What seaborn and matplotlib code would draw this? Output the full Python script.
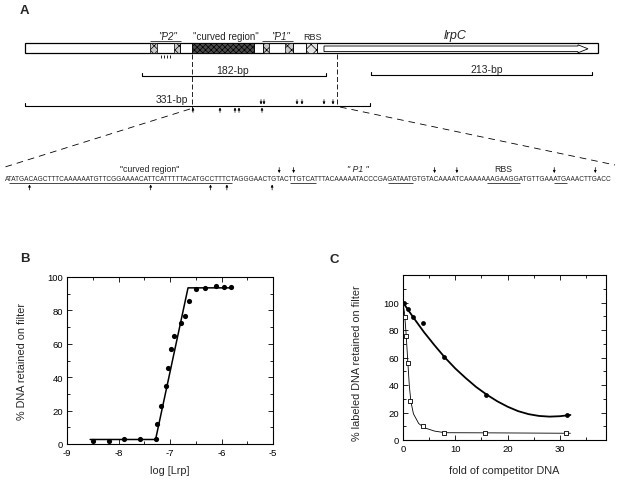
import numpy as np
import pandas as pd
import matplotlib
matplotlib.use("Agg")
import matplotlib.pyplot as plt
import seaborn as sns
from matplotlib.patches import Rectangle, Polygon
from matplotlib.font_manager import FontProperties
from matplotlib.ticker import MultipleLocator

# ---------------- DATA ----------------
# Panel B: filter binding vs log [Lrp]
b_log_lrp = [-8.50, -8.19, -7.89, -7.59, -7.28, -7.26, -7.17, -7.08, -7.03, -6.99,
             -6.92, -6.79, -6.70, -6.63, -6.50, -6.33, -6.11, -5.95, -5.81]
b_pct = [2.0, 2.0, 3.0, 3.0, 3.0, 11.8, 22.7, 34.7, 45.8, 57.0,
         64.7, 72.7, 76.7, 85.6, 93.0, 93.4, 94.6, 94.0, 94.0]
b_fit_x = [-8.55, -7.28, -6.65, -5.78]
b_fit_y = [2.7, 2.7, 93.5, 93.5]

# Panel C: competition
c_fold_filled = [0.15, 0.95, 2.0, 3.9, 7.8, 15.8, 31.3]
c_pct_filled = [100.0, 95.1, 89.6, 85.0, 60.7, 32.8, 18.4]
c_fold_open = [0.3, 0.64, 0.95, 1.4, 3.9, 7.9, 15.6, 31.2]
c_pct_open = [89.6, 75.5, 55.8, 28.4, 10.2, 5.3, 5.3, 4.9]
c_curve_filled_x = [0, 2, 4, 6, 8, 10, 12, 14, 16, 18, 20, 22, 24, 26, 28, 30, 32]
c_curve_filled_y = [100, 89, 78.5, 69, 60, 52, 45, 38.5, 33, 28.2, 24.2, 21, 18.8, 17.5, 17, 17.3, 18.2]
c_curve_open_x = [0, 0.3, 0.6, 0.9, 1.2, 1.5, 2, 3, 4, 6, 8, 16, 32]
c_curve_open_y = [100, 92, 77, 58, 40, 28, 19, 12, 9, 6.5, 5.3, 5.2, 4.9]

# Panel A: sequence and annotations
sequence = ("ATATGACAGCTTTCAAAAAATGTTCGGAAAACATTCATTTTTACATGCCTTTCTAGGGAACTGTAC"
            "TTGTCATTTACAAAAATACCCGAGATAATGTGTACAAAATCAAAAAAAGAAGGATGTTGAAATGAAACTTGACC")
seq_underlines = [(1, 53), (66, 72), (89, 95), (112, 119), (127, 130)]
seq_up_arrows = [5.5, 33.0, 47.5, 51.5, 61.5]
seq_down_arrows = [63.0, 66.5, 99.5, 104.5, 126.5, 136.0]
line331_up_arrows = [193, 220, 235, 239, 262]
line331_down_arrows = [261, 264, 297, 302, 324, 333]

# ---------------- STYLE ----------------
sns.set_style("ticks")
plt.rcParams['font.family'] = ['Liberation Sans', 'DejaVu Sans']
plt.rcParams['axes.unicode_minus'] = False

W, H = 620, 481
fig = plt.figure(figsize=(6.2, 4.81), dpi=100)
axA = fig.add_axes([0, 0, 1, 1])
axA.set_xlim(0, W)
axA.set_ylim(H, 0)
axA.axis('off')

K = 'black'

def hline(x0, x1, y, lw=0.8, **kw):
    axA.plot([x0, x1], [y, y], color=K, lw=lw, solid_capstyle='butt', **kw)

def vline(x, y0, y1, lw=0.8, **kw):
    axA.plot([x, x], [y0, y1], color=K, lw=lw, solid_capstyle='butt', **kw)

def arrow(x, ytail, yhead, lw=0.5, ms=3.5):
    axA.annotate('', xy=(x, yhead), xytext=(x, ytail),
                 arrowprops=dict(arrowstyle='-|>', lw=lw, color=K, mutation_scale=ms,
                                 shrinkA=0, shrinkB=0))

# panel letters
axA.text(20, 11, 'A', fontsize=9.5, fontweight='bold', va='center', ha='left')
axA.text(20, 259, 'B', fontsize=9.5, fontweight='bold', va='center', ha='left')
axA.text(330, 260, 'C', fontsize=9.5, fontweight='bold', va='center', ha='left')

# gene box
y0, y1 = 44, 54
axA.add_patch(Rectangle((25, y0), 598 - 25, y1 - y0, fc='white', ec=K, lw=0.9, zorder=2))
plt.rcParams['hatch.linewidth'] = 0.5
def block(x0, x1, fc, hatch):
    axA.add_patch(Rectangle((x0, y0), x1 - x0, y1 - y0, fc=fc, ec=K, lw=0.5,
                            hatch=hatch, zorder=3))
block(150, 157, '#c8c8c8', 'xxxx')
block(174, 180, '#c8c8c8', 'xxxx')
block(192, 254, '#4a4a4a', 'xxxxxx')
block(263, 269, '#c8c8c8', 'xxxx')
block(285, 293, '#c8c8c8', 'xxxx')
block(306, 317, '#e4e4e4', 'xxx')
for xs in [180, 192, 254, 263, 293, 306, 317]:
    vline(xs, y0, y1, lw=0.5, zorder=4)
# open arrow of lrpC
axA.add_patch(Polygon([(324, 47), (578, 47), (578, 45.8), (588, 49.8), (578, 53.8),
                       (578, 52.6), (324, 52.6)], closed=True, fc='white', ec=K,
                      lw=0.6, zorder=4))

# labels above the box
axA.text(168, 37, '"P2"', fontsize=7, style='italic', ha='center', va='center')
hline(150, 181, 41.5, lw=0.5)
axA.text(226, 37, '"curved region"', fontsize=7, ha='center', va='center')
axA.text(281, 37, '"P1"', fontsize=7, style='italic', ha='center', va='center')
hline(262, 293, 41.5, lw=0.5)
axA.text(312, 37, 'RBS', fontsize=6.5, ha='center', va='center')
axA.text(455, 36, 'lrpC', fontsize=9, style='italic', ha='center', va='center')
for xs in [161, 164, 167, 170]:
    vline(xs, 56, 58.5, lw=0.6)

# dashed verticals
axA.plot([192, 192], [55, 112], color=K, lw=0.6, dashes=(6, 3))
axA.plot([337, 337], [55, 107], color=K, lw=0.6, dashes=(6, 3))

# 182-bp, 213-bp, 331-bp fragments
def fragment(x0, x1, y, label, lx, ly):
    axA.plot([x0, x0, x1, x1], [y - 3, y, y, y - 3], color=K, lw=0.8)
    axA.text(lx, ly, label, fontsize=7.5, ha='center', va='center')
fragment(142, 326, 77, '182-bp', 233, 71)
fragment(371, 592, 76, '213-bp', 487, 70)
fragment(25, 370, 107, '331-bp', 172, 100)

for xs in line331_up_arrows:
    arrow(xs, 113.5, 108.5)
for xs in line331_down_arrows:
    arrow(xs, 100.5, 105.5)

# dashed expansion lines
axA.plot([190, 5], [110, 168], color=K, lw=0.6, dashes=(8, 6))
axA.plot([340, 615], [108, 166], color=K, lw=0.6, dashes=(8, 6))

# sequence
renderer = fig.canvas.get_renderer()
seq_x0, seq_x1, seq_y = 5, 618, 180
fp = FontProperties(family='Liberation Sans', size=10)
w10, _, _ = renderer.get_text_width_height_descent(sequence, fp, ismath=False)
seq_fs = 10 * (seq_x1 - seq_x0) / w10
fp = FontProperties(family='Liberation Sans', size=seq_fs)
axA.text(seq_x0, seq_y, sequence, fontproperties=fp, ha='left', va='center')

def char_x(idx):
    i = int(np.floor(idx))
    frac = idx - i
    wa = renderer.get_text_width_height_descent(sequence[:i], fp, ismath=False)[0] if i > 0 else 0.0
    wb = renderer.get_text_width_height_descent(sequence[:i + 1], fp, ismath=False)[0]
    return seq_x0 + wa + (wb - wa) * (0.5 + frac)

def char_edge(idx):
    if idx == 0:
        return seq_x0
    return seq_x0 + renderer.get_text_width_height_descent(sequence[:idx], fp, ismath=False)[0]

for a, b in seq_underlines:
    hline(char_edge(a), char_edge(b), seq_y + 4, lw=0.5)
for idx in seq_up_arrows:
    arrow(char_x(idx), seq_y + 11, seq_y + 5.5)
for idx in seq_down_arrows:
    arrow(char_x(idx), seq_y - 11.5, seq_y - 6)

axA.text(150, 170, '"curved region"', fontsize=6.3, ha='center', va='center')
axA.text(358, 170, '" P1 "', fontsize=6.3, style='italic', ha='center', va='center')
axA.text(503, 170, 'RBS', fontsize=6.3, ha='center', va='center')

# ---------------- PANEL B ----------------
def style_axes(ax):
    for sp in ax.spines.values():
        sp.set_visible(True)
        sp.set_linewidth(0.8)
        sp.set_color(K)
    ax.tick_params(which='both', direction='in', top=True, right=True, labelsize=6.8,
                   width=0.6, colors=K, pad=3)
    ax.tick_params(which='major', length=3.5)
    ax.tick_params(which='minor', length=2)

axB = fig.add_axes([67 / W, 1 - 445 / H, 206 / W, (445 - 278) / H])
dfB = pd.DataFrame({'log': b_log_lrp, 'pct': b_pct})
dfBfit = pd.DataFrame({'log': b_fit_x, 'pct': b_fit_y})
sns.lineplot(data=dfBfit, x='log', y='pct', ax=axB, color=K, lw=1.1, sort=False)
sns.scatterplot(data=dfB, x='log', y='pct', ax=axB, color=K, s=14, edgecolor=K,
                linewidth=0, zorder=3)
axB.set_xlim(-9, -5)
axB.set_ylim(0, 100)
axB.set_xticks([-9, -8, -7, -6, -5])
axB.set_yticks([0, 20, 40, 60, 80, 100])
axB.xaxis.set_minor_locator(MultipleLocator(0.5))
axB.yaxis.set_minor_locator(MultipleLocator(10))
style_axes(axB)
axB.set_xlabel('log [Lrp]', fontsize=7.8)
axB.set_ylabel('% DNA retained on filter', fontsize=7.8)
axB.xaxis.set_label_coords(0.5, -0.125)
axB.yaxis.set_label_coords(-0.195, 0.5)

# ---------------- PANEL C ----------------
axC = fig.add_axes([403 / W, 1 - 441 / H, 203 / W, (441 - 276) / H])
dfCf = pd.DataFrame({'fold': c_fold_filled, 'pct': c_pct_filled})
dfCo = pd.DataFrame({'fold': c_fold_open, 'pct': c_pct_open})
dfCcf = pd.DataFrame({'fold': c_curve_filled_x, 'pct': c_curve_filled_y})
dfCco = pd.DataFrame({'fold': c_curve_open_x, 'pct': c_curve_open_y})
sns.lineplot(data=dfCcf, x='fold', y='pct', ax=axC, color=K, lw=1.3, sort=False)
sns.lineplot(data=dfCco, x='fold', y='pct', ax=axC, color=K, lw=0.6, sort=False)
sns.scatterplot(data=dfCf, x='fold', y='pct', ax=axC, color=K, s=12, edgecolor=K,
                linewidth=0, zorder=3)
sns.scatterplot(data=dfCo, x='fold', y='pct', ax=axC, marker='s', s=10,
                facecolor='white', edgecolor=K, linewidth=0.6, zorder=3)
axC.set_xlim(0, 38.8)
axC.set_ylim(0, 120)
axC.set_xticks([0, 10, 20, 30])
axC.set_yticks([0, 20, 40, 60, 80, 100])
axC.xaxis.set_minor_locator(MultipleLocator(5))
axC.yaxis.set_minor_locator(MultipleLocator(10))
style_axes(axC)
axC.set_xlabel('fold of competitor DNA', fontsize=7.8)
axC.set_ylabel('% labeled DNA retained on filter', fontsize=7.8)
axC.xaxis.set_label_coords(0.5, -0.15)
axC.yaxis.set_label_coords(-0.2, 0.47)

fig.savefig('out.png', dpi=100, facecolor='white')
